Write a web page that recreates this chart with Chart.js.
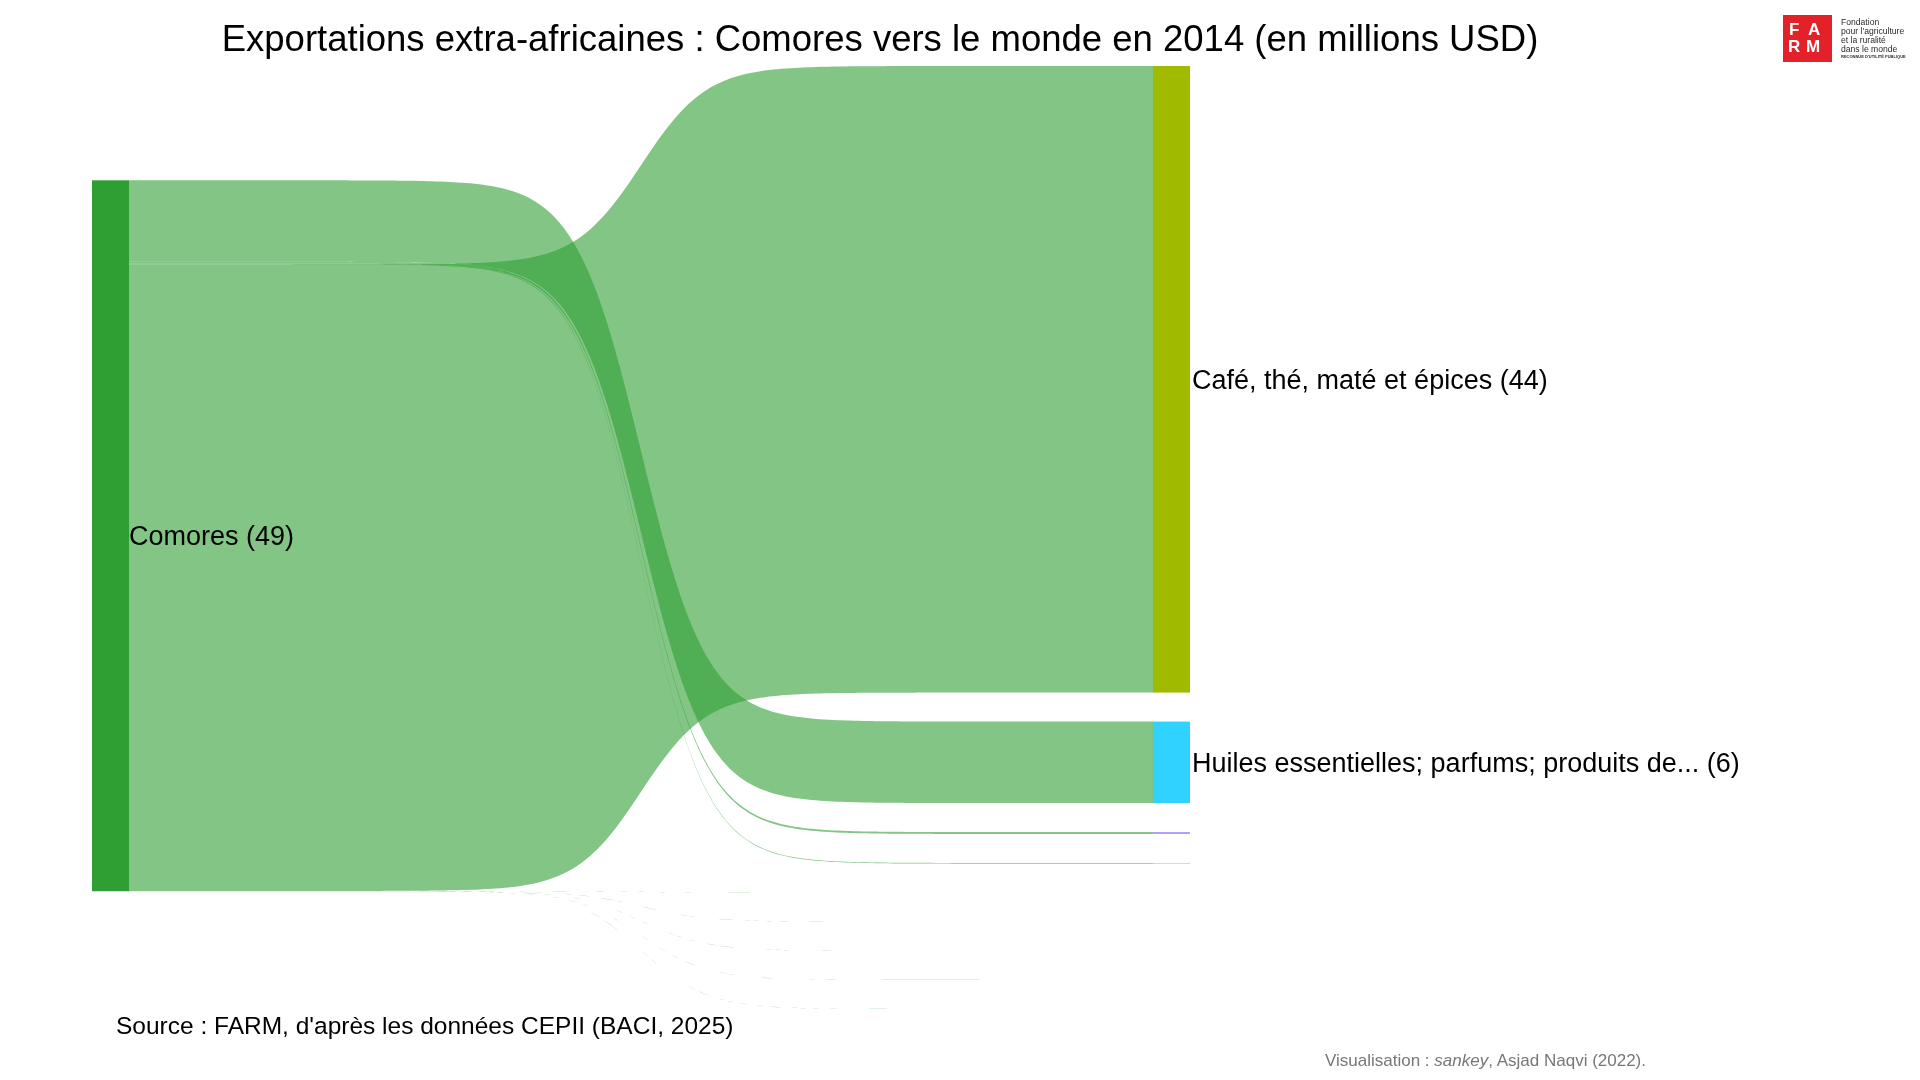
<!DOCTYPE html>
<html>
<head>
<meta charset="utf-8">
<script src="https://cdn.jsdelivr.net/npm/chart.js@4.4.1/dist/chart.umd.min.js"></script>
<style>
  html, body { margin: 0; padding: 0; background: #ffffff; }
  #wrap { position: relative; width: 1920px; height: 1080px; overflow: hidden; }
  #c { position: absolute; left: 0; top: 0; }
  .txt { position: absolute; font-family: "Liberation Sans", Arial, sans-serif; line-height: 1; white-space: nowrap; }
  .src { left: 116px; top: 1014px; font-size: 24.5px; color: #000; }
  .cred { left: 1325px; top: 1052px; font-size: 17px; color: #777777; }
  .logo { position: absolute; left: 1783px; top: 15px; width: 49px; height: 47px; background: #E42128; }
  .lg { position: absolute; font-family: "Liberation Sans", Arial, sans-serif; font-weight: bold; font-size: 17px; line-height: 1; color: #fff; }
  .lt { position: absolute; left: 1841px; font-family: "Liberation Sans", Arial, sans-serif; font-size: 8.6px; line-height: 1; color: #2b2b2b; white-space: nowrap; }
  .lsmall { position: absolute; left: 1841px; top: 55px; font-family: "Liberation Sans", Arial, sans-serif; font-weight: bold; font-size: 8px; line-height: 1; color: #2b2b2b; white-space: nowrap; transform: scale(0.5); transform-origin: 0 0; }
</style>
</head>
<body>
<div id="wrap">
  <canvas id="c" width="1920" height="1080"></canvas>
  <div class="txt src">Source : FARM, d'après les données CEPII (BACI, 2025)</div>
  <div class="txt cred">Visualisation : <i>sankey</i>, Asjad Naqvi (2022).</div>
  <div class="logo"></div>
  <div class="lg" style="left:1789px;top:20.5px;">F</div>
  <div class="lg" style="left:1808px;top:20.5px;">A</div>
  <div class="lg" style="left:1788px;top:38px;">R</div>
  <div class="lg" style="left:1806px;top:38px;">M</div>
  <div class="lt" style="top:18px;">Fondation</div>
  <div class="lt" style="top:27px;">pour l'agriculture</div>
  <div class="lt" style="top:36px;">et la ruralité</div>
  <div class="lt" style="top:45px;">dans le monde</div>
  <div class="lsmall">RECONNUE D'UTILITÉ PUBLIQUE</div>
</div>
<script>
// ---------------- DATA ----------------
const chartTitle = "Exportations extra-africaines : Comores vers le monde en 2014 (en millions USD)";
const sourceName = "Comores";
const targetNames = [
  "Café, thé, maté et épices",
  "Huiles essentielles; parfums; produits de...",
  "Autre produit 1",
  "Autre produit 2",
  "Autre produit 3",
  "Autre produit 4",
  "Autre produit 5",
  "Autre produit 6",
  "Autre produit 7"
];
// flow values Comores -> target (millions USD)
const flowValues = [43.52, 5.66, 0.13, 0.05, 0.004, 0.004, 0.004, 0.004, 0.004];
// order in which the flows leave the source node (top to bottom)
const sourceOrder = [1, 2, 3, 0, 4, 5, 6, 7, 8];

// ---------------- STYLE ----------------
const sourceColor = [47, 158, 51];
const targetColors = ["#A0BA00", "#30D2FF", "#A99BFF", "#A9CBFF", "#F4B4B4", "#C9E7A8", "#F7D59B", "#D2C2F0", "#BFE3EE"];
const FONT = '"Liberation Sans", Arial, sans-serif';
const FLOW_ALPHA = 0.6;
const SIGMOID_K = 31;
const GAP_RATIO = 0.0408;     // node padding as share of total
const NODE_W = 0.0337;        // node width in x units
const X_MIN = -0.08379, X_MAX = 1.51913;
const LABEL_DY = 2;

// ---------------- LAYOUT (value units) ----------------
const total = flowValues.reduce((a, b) => a + b, 0);
const gap = GAP_RATIO * total;
const H = total + (targetNames.length - 1) * gap;
const srcTop = (H - total) / 2 - 0.12;
const tgtTop = [];
{
  let acc = 0;
  for (let i = 0; i < flowValues.length; i++) { tgtTop.push(acc); acc += flowValues[i] + gap; }
}
const srcOffset = new Array(flowValues.length);
{
  let acc = srcTop;
  for (const k of sourceOrder) { srcOffset[k] = acc; acc += flowValues[k]; }
}

function sig(t) {
  const f = v => 1 / (1 + Math.exp(-SIGMOID_K * (v - 0.5)));
  const a = f(0), b = f(1);
  return (f(t) - a) / (b - a);
}

const sankeyPlugin = {
  id: 'sankey',
  afterDatasetsDraw(chart) {
    const { ctx } = chart;
    const x = chart.scales.x, y = chart.scales.y;
    const xl0 = x.getPixelForValue(0), xl1 = x.getPixelForValue(NODE_W);
    const xr0 = x.getPixelForValue(1 - NODE_W), xr1 = x.getPixelForValue(1);
    ctx.save();
    // flows
    ctx.fillStyle = `rgba(${sourceColor[0]},${sourceColor[1]},${sourceColor[2]},${FLOW_ALPHA})`;
    const N = 240;
    for (let k = 0; k < flowValues.length; k++) {
      const s0 = y.getPixelForValue(srcOffset[k]);
      const s1 = y.getPixelForValue(srcOffset[k] + flowValues[k]);
      const t0 = y.getPixelForValue(tgtTop[k]);
      const t1 = y.getPixelForValue(tgtTop[k] + flowValues[k]);
      ctx.beginPath();
      for (let i = 0; i <= N; i++) {
        const t = i / N, g = sig(t);
        ctx.lineTo(xl1 + (xr0 - xl1) * t, s0 + (t0 - s0) * g);
      }
      for (let i = N; i >= 0; i--) {
        const t = i / N, g = sig(t);
        ctx.lineTo(xl1 + (xr0 - xl1) * t, s1 + (t1 - s1) * g);
      }
      ctx.closePath();
      ctx.fill();
    }
    // source node
    const sy0 = y.getPixelForValue(srcTop), sy1 = y.getPixelForValue(srcTop + total);
    ctx.fillStyle = `rgb(${sourceColor[0]},${sourceColor[1]},${sourceColor[2]})`;
    ctx.fillRect(xl0, sy0, xl1 - xl0, sy1 - sy0);
    // target nodes
    for (let k = 0; k < flowValues.length; k++) {
      const t0 = y.getPixelForValue(tgtTop[k]);
      const t1 = y.getPixelForValue(tgtTop[k] + flowValues[k]);
      ctx.fillStyle = targetColors[k];
      ctx.fillRect(xr0, t0, xr1 - xr0, t1 - t0);
    }
    // labels
    ctx.fillStyle = '#000';
    ctx.font = `27px ${FONT}`;
    ctx.textBaseline = 'middle';
    ctx.textAlign = 'left';
    ctx.fillText(`${sourceName} (${Math.round(total)})`, xl1, (sy0 + sy1) / 2 + LABEL_DY);
    for (let k = 0; k < flowValues.length; k++) {
      if (flowValues[k] < 1) continue;
      const t0 = y.getPixelForValue(tgtTop[k]);
      const t1 = y.getPixelForValue(tgtTop[k] + flowValues[k]);
      ctx.fillText(`${targetNames[k]} (${Math.round(flowValues[k])})`, xr1 + 2, (t0 + t1) / 2 + LABEL_DY);
    }
    ctx.restore();
  }
};

new Chart(document.getElementById('c'), {
  type: 'scatter',
  data: { datasets: [{ data: [] }] },
  options: {
    responsive: false,
    animation: false,
    events: [],
    layout: { padding: { top: 0, left: 0, right: 160, bottom: 71 } },
    scales: {
      x: { type: 'linear', min: X_MIN, max: X_MAX, display: false },
      y: { type: 'linear', min: 0, max: H, reverse: true, display: false }
    },
    plugins: {
      legend: { display: false },
      tooltip: { enabled: false },
      title: {
        display: true,
        text: chartTitle,
        color: '#000',
        font: { family: FONT, size: 36.5, weight: 'normal', lineHeight: 1.2 },
        padding: { top: 19, bottom: 3.2 }
      }
    }
  },
  plugins: [sankeyPlugin]
});
</script>
</body>
</html>
